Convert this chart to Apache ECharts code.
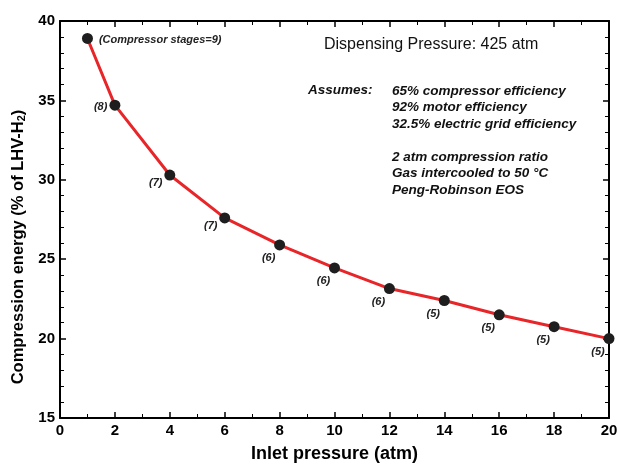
<!DOCTYPE html>
<html>
<head>
<meta charset="utf-8">
<script src="https://cdn.jsdelivr.net/npm/echarts@6/dist/echarts.min.js"></script>
<style>
  html, body { margin: 0; padding: 0; background: #fff; }
  #chart { width: 617px; height: 465px; }
</style>
</head>
<body>
<div id="chart"></div>
<script>
// inlet pressure (atm) and compression energy (% of LHV-H2)
var inletPressure = [1, 2, 4, 6, 8, 10, 12, 14, 16, 18, 20];
var compEnergy = [38.9, 34.7, 30.3, 27.6, 25.9, 24.45, 23.15, 22.4, 21.5, 20.75, 20.0];
// number of compressor stages at each point
var stages = [9, 8, 7, 7, 6, 6, 6, 5, 5, 5, 5];

var xTicks = [0, 2, 4, 6, 8, 10, 12, 14, 16, 18, 20];
var yTicks = [15, 20, 25, 30, 35, 40];

var assumeLines = [
  '65% compressor efficiency',
  '92% motor efficiency',
  '32.5% electric grid efficiency',
  '',
  '2 atm compression ratio',
  'Gas intercooled to 50 \u00b0C',
  'Peng-Robinson EOS'
];

var FONT = 'Arial, "Liberation Sans", Helvetica, sans-serif';
var chart = echarts.init(document.getElementById('chart'), null, { renderer: 'canvas' });

var axisLine = { show: true, onZero: false, lineStyle: { color: '#000', width: 2 } };
var majorTick = { show: true, inside: true, length: 6, lineStyle: { color: '#000', width: 1.5 } };

// label placement for each point (first one to the right, rest to the lower left)
var pts = inletPressure.map(function (x, i) {
  var lbl;
  if (i === 0) {
    lbl = { show: true, position: 'right', offset: [1, 2], formatter: '(Compressor stages=' + stages[i] + ')' };
  } else if (i === 1) {
    lbl = { show: true, position: 'left', offset: [3, 2], formatter: '(' + stages[i] + ')' };
  } else {
    lbl = { show: true, position: 'inside', offset: [i < 4 ? -14 : -11, i < 4 ? 8 : 13], formatter: '(' + stages[i] + ')' };
  }
  return { value: [x, compEnergy[i]], label: lbl };
});

var gtext = [
  { type: 'text', left: 324, top: 37, style: { text: 'Dispensing Pressure: 425 atm', font: '16px ' + FONT, fill: '#111' } },
  { type: 'text', left: 308, top: 83, style: { text: 'Assumes:', font: 'italic bold 13.5px ' + FONT, fill: '#111' } },
  { type: 'text', left: 392, top: 83, style: { text: assumeLines.join('\n'), font: 'italic bold 13.5px ' + FONT, lineHeight: 16.5, fill: '#111' } },
  // y axis title, rotated
  { type: 'text', x: 18, y: 247, rotation: Math.PI / 2,
    style: {
      text: '{a|Compression energy (% of LHV-H}{s|2}{a|)}',
      align: 'center', verticalAlign: 'middle',
      rich: {
        a: { fontFamily: FONT, fontWeight: 'bold', fontSize: 16.5, fill: '#000' },
        s: { fontFamily: FONT, fontWeight: 'bold', fontSize: 11, fill: '#000', padding: [8, 0, 0, 0] }
      }
    }
  }
];

chart.setOption({
  animation: false,
  backgroundColor: '#fff',
  grid: { left: 60, right: 8, top: 21, bottom: 47, containLabel: false, outerBoundsMode: 'none' },
  xAxis: [{
    type: 'value', min: 0, max: 20, interval: 2,
    name: 'Inlet pressure (atm)', nameLocation: 'middle', nameGap: 27,
    nameTextStyle: { fontFamily: FONT, fontWeight: 'bold', fontSize: 18, color: '#000' },
    axisLine: axisLine,
    axisTick: majorTick,
    minorTick: { show: true, splitNumber: 2, length: 4, lineStyle: { color: '#000', width: 1 } },
    axisLabel: { fontFamily: FONT, fontWeight: 'bold', fontSize: 15, color: '#000', margin: 5,
      customValues: xTicks },
    splitLine: { show: false }
  }, {
    type: 'value', min: 0, max: 20, interval: 2, position: 'top',
    axisLine: axisLine,
    axisTick: majorTick,
    minorTick: { show: true, splitNumber: 2, length: 4, lineStyle: { color: '#000', width: 1 } },
    axisLabel: { show: false },
    splitLine: { show: false }
  }],
  yAxis: [{
    type: 'value', min: 15, max: 40, interval: 5,
    axisLine: axisLine,
    axisTick: majorTick,
    minorTick: { show: true, splitNumber: 5, length: 4, lineStyle: { color: '#000', width: 1 } },
    axisLabel: { fontFamily: FONT, fontWeight: 'bold', fontSize: 15, color: '#000', margin: 5,
      customValues: yTicks },
    splitLine: { show: false }
  }, {
    type: 'value', min: 15, max: 40, interval: 5, position: 'right',
    axisLine: axisLine,
    axisTick: majorTick,
    minorTick: { show: true, splitNumber: 5, length: 4, lineStyle: { color: '#000', width: 1 } },
    axisLabel: { show: false },
    splitLine: { show: false }
  }],
  series: [{
    type: 'line',
    data: pts,
    symbol: 'circle',
    symbolSize: 11,
    lineStyle: { color: '#e8262a', width: 3 },
    itemStyle: { color: '#1e1e1e' },
    label: { fontFamily: FONT, fontStyle: 'italic', fontWeight: 'bold', fontSize: 11, color: '#222' },
    z: 3
  }],
  graphic: gtext
});
</script>
</body>
</html>
